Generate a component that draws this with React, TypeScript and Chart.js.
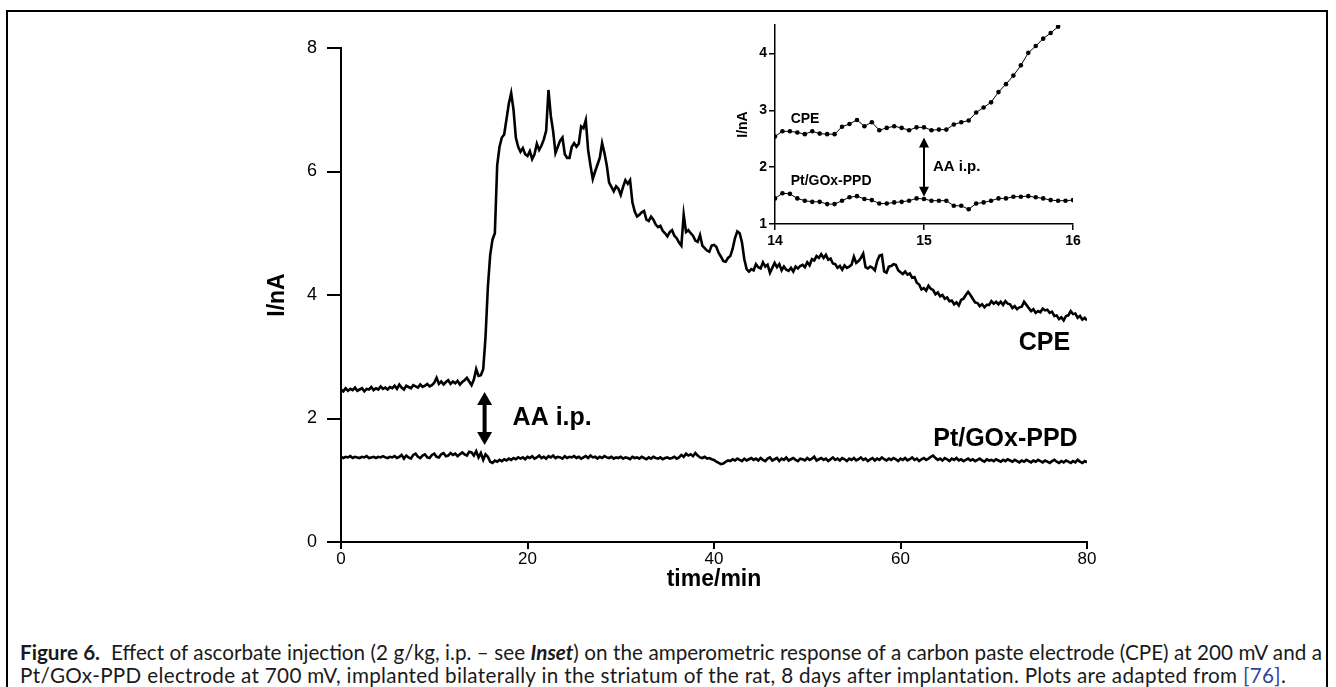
import React, { useEffect, useRef } from "react";
import { Chart, registerables } from "chart.js";

Chart.register(...registerables);

// ---------- data ----------
const MAIN_T_START = 0;
const MAIN_T_STEP = 0.25; // min between samples

const CPE_MAIN = [
  2.47, 2.44, 2.49, 2.45, 2.48, 2.46, 2.50, 2.45, 2.47, 2.49, 2.44, 2.48, 2.47, 2.51, 2.46, 2.49, 2.47, 2.52, 2.48, 2.50,
  2.47, 2.51, 2.49, 2.53, 2.48, 2.55, 2.50, 2.47, 2.53, 2.51, 2.49, 2.54, 2.52, 2.50, 2.55, 2.51, 2.53, 2.56, 2.52, 2.54,
  2.58, 2.66, 2.56, 2.60, 2.55, 2.59, 2.62, 2.56, 2.60, 2.57, 2.61, 2.55, 2.59, 2.62, 2.66, 2.60, 2.54, 2.63, 2.80, 2.69,
  2.70, 2.80, 3.32, 4.13, 4.65, 4.90, 5.00, 6.10, 6.40, 6.55, 6.60, 6.85, 7.10, 7.27, 7.00, 6.55, 6.40, 6.32, 6.38, 6.28,
  6.25, 6.33, 6.20, 6.28, 6.45, 6.35, 6.42, 6.52, 6.66, 7.32, 6.90, 6.65, 6.30, 6.40, 6.50, 6.55, 6.28, 6.22, 6.22, 6.40,
  6.46, 6.40, 6.45, 6.73, 6.70, 6.83, 6.35, 6.10, 5.88, 6.00, 6.11, 6.22, 6.46, 6.30, 6.10, 5.82, 5.75, 5.68, 5.76, 5.72,
  5.62, 5.75, 5.86, 5.80, 5.86, 5.50, 5.35, 5.27, 5.30, 5.34, 5.36, 5.22, 5.20, 5.27, 5.22, 5.14, 5.10, 5.12, 5.04, 5.00,
  4.95, 5.02, 5.05, 4.96, 4.92, 4.85, 4.80, 5.30, 5.02, 5.05, 5.00, 4.96, 4.88, 4.86, 4.97, 4.80, 4.76, 4.72, 4.70, 4.80,
  4.81, 4.78, 4.68, 4.62, 4.55, 4.54, 4.60, 4.63, 4.75, 4.92, 5.03, 5.00, 4.85, 4.58, 4.42, 4.38, 4.42, 4.40, 4.50, 4.45,
  4.43, 4.53, 4.46, 4.49, 4.36, 4.44, 4.52, 4.45, 4.50, 4.40, 4.46, 4.41, 4.39, 4.44, 4.38, 4.46, 4.43, 4.47, 4.49, 4.45,
  4.53, 4.48, 4.58, 4.56, 4.63, 4.60, 4.66, 4.60, 4.65, 4.57, 4.59, 4.51, 4.50, 4.44, 4.47, 4.41, 4.48, 4.44, 4.46, 4.49,
  4.62, 4.52, 4.55, 4.60, 4.67, 4.45, 4.43, 4.46, 4.44, 4.40, 4.55, 4.64, 4.65, 4.38, 4.36, 4.46, 4.47, 4.50, 4.49, 4.40,
  4.37, 4.34, 4.38, 4.33, 4.35, 4.28, 4.29, 4.20, 4.17, 4.09, 4.11, 4.07, 4.15, 4.10, 4.08, 4.01, 4.04, 3.98, 4.00, 3.94,
  3.96, 3.90, 3.91, 3.85, 3.88, 3.83, 3.92, 3.94, 4.00, 4.05, 4.00, 3.94, 3.88, 3.87, 3.82, 3.85, 3.80, 3.84, 3.84, 3.90,
  3.86, 3.89, 3.85, 3.89, 3.84, 3.90, 3.86, 3.85, 3.79, 3.82, 3.77, 3.80, 3.81, 3.89, 3.84, 3.79, 3.74, 3.77, 3.71, 3.74,
  3.72, 3.78, 3.75, 3.76, 3.71, 3.73, 3.66, 3.67, 3.61, 3.64, 3.59, 3.66, 3.67, 3.74, 3.69, 3.70, 3.63, 3.66, 3.60, 3.63,
  3.59,
];

const PT_MAIN = [
  1.38, 1.36, 1.38, 1.37, 1.39, 1.36, 1.38, 1.37, 1.36, 1.38, 1.37, 1.39, 1.36, 1.37, 1.38, 1.36, 1.38, 1.37, 1.39, 1.37,
  1.36, 1.38, 1.37, 1.39, 1.36, 1.38, 1.41, 1.35, 1.40, 1.37, 1.35, 1.41, 1.43, 1.38, 1.36, 1.40, 1.42, 1.37, 1.36, 1.41,
  1.43, 1.38, 1.37, 1.42, 1.44, 1.39, 1.40, 1.44, 1.41, 1.43, 1.39, 1.42, 1.45, 1.42, 1.40, 1.46, 1.45, 1.40, 1.47, 1.37,
  1.44, 1.33, 1.42, 1.38, 1.30, 1.28, 1.32, 1.30, 1.33, 1.31, 1.34, 1.32, 1.35, 1.33, 1.36, 1.34, 1.37, 1.35, 1.37, 1.34,
  1.38, 1.36, 1.39, 1.35, 1.37, 1.40, 1.36, 1.38, 1.35, 1.39, 1.37, 1.40, 1.36, 1.38, 1.37, 1.35, 1.39, 1.36, 1.38, 1.37,
  1.39, 1.36, 1.38, 1.35, 1.37, 1.39, 1.36, 1.40, 1.37, 1.38, 1.35, 1.38, 1.36, 1.39, 1.37, 1.36, 1.38, 1.35, 1.37, 1.36,
  1.38, 1.35, 1.37, 1.36, 1.34, 1.38, 1.36, 1.37, 1.35, 1.38, 1.36, 1.34, 1.37, 1.35, 1.38, 1.36, 1.35, 1.37, 1.34, 1.36,
  1.37, 1.35, 1.36, 1.38, 1.35, 1.37, 1.41, 1.38, 1.43, 1.40, 1.42, 1.39, 1.44, 1.40, 1.37, 1.36, 1.38, 1.35, 1.36, 1.34,
  1.33, 1.30, 1.28, 1.26, 1.27, 1.30, 1.32, 1.31, 1.34, 1.32, 1.35, 1.33, 1.31, 1.35, 1.32, 1.34, 1.36, 1.33, 1.35, 1.32,
  1.36, 1.33, 1.31, 1.35, 1.37, 1.32, 1.34, 1.36, 1.31, 1.35, 1.33, 1.37, 1.32, 1.34, 1.36, 1.33, 1.31, 1.35, 1.34, 1.32,
  1.36, 1.33, 1.35, 1.38, 1.32, 1.34, 1.36, 1.33, 1.35, 1.31, 1.34, 1.37, 1.33, 1.35, 1.32, 1.36, 1.34, 1.31, 1.35, 1.33,
  1.36, 1.32, 1.34, 1.37, 1.33, 1.35, 1.31, 1.34, 1.36, 1.32, 1.35, 1.33, 1.37, 1.34, 1.32, 1.35, 1.33, 1.36, 1.34, 1.31,
  1.35, 1.33, 1.36, 1.32, 1.34, 1.37, 1.33, 1.35, 1.31, 1.34, 1.36, 1.33, 1.35, 1.38, 1.40, 1.36, 1.33, 1.35, 1.32, 1.36,
  1.34, 1.31, 1.35, 1.33, 1.36, 1.32, 1.34, 1.31, 1.33, 1.35, 1.32, 1.34, 1.31, 1.33, 1.35, 1.32, 1.30, 1.34, 1.32, 1.33,
  1.31, 1.34, 1.32, 1.30, 1.33, 1.31, 1.34, 1.32, 1.30, 1.33, 1.31, 1.29, 1.32, 1.30, 1.33, 1.31, 1.29, 1.32, 1.30, 1.33,
  1.31, 1.29, 1.32, 1.30, 1.28, 1.31, 1.33, 1.30, 1.28, 1.31, 1.29, 1.32, 1.30, 1.28, 1.31, 1.29, 1.33, 1.30, 1.28, 1.31,
  1.29,
];

const INSET_T = [
  14.0, 14.05, 14.1, 14.15, 14.2, 14.25, 14.3, 14.35, 14.4, 14.45,
  14.5, 14.55, 14.6, 14.65, 14.7, 14.75, 14.8, 14.85, 14.9, 14.95,
  15.0, 15.05, 15.1, 15.15, 15.2, 15.25, 15.3, 15.35, 15.4, 15.45,
  15.5, 15.55, 15.6, 15.65, 15.7, 15.75, 15.8, 15.85, 15.9, 15.95, 16.0,
];

const CPE_INSET = [
  2.54, 2.63, 2.63, 2.61, 2.58, 2.63, 2.59, 2.58, 2.58, 2.71,
  2.76, 2.83, 2.72, 2.79, 2.65, 2.69, 2.72, 2.69, 2.65, 2.70,
  2.70, 2.65, 2.66, 2.66, 2.75, 2.79, 2.82, 2.96, 3.05, 3.14,
  3.32, 3.46, 3.61, 3.79, 4.01, 4.13, 4.26, 4.36, 4.47,
];

const PT_INSET = [
  1.45, 1.54, 1.53, 1.45, 1.41, 1.39, 1.39, 1.35, 1.35, 1.41,
  1.47, 1.49, 1.44, 1.42, 1.36, 1.36, 1.38, 1.39, 1.41, 1.45,
  1.44, 1.41, 1.41, 1.41, 1.32, 1.32, 1.26, 1.36, 1.38, 1.41,
  1.45, 1.45, 1.48, 1.48, 1.49, 1.47, 1.45, 1.42, 1.41, 1.41, 1.42,
];

const MAIN_X_TICKS = [0, 20, 40, 60, 80];
const MAIN_Y_TICKS = [0, 2, 4, 6, 8];
const INSET_X_TICKS = [14, 15, 16];
const INSET_Y_TICKS = [1, 2, 3, 4];

// ---------- helpers ----------
const ARIAL = '"Liberation Sans", Arial, Helvetica, sans-serif';

function drawArrow(ctx: CanvasRenderingContext2D, x: number, yTop: number, yBot: number, headW: number, headL: number, lineW: number) {
  ctx.save();
  ctx.fillStyle = "#000";
  ctx.strokeStyle = "#000";
  ctx.lineWidth = lineW;
  ctx.beginPath();
  ctx.moveTo(x, yTop + headL - 1);
  ctx.lineTo(x, yBot - headL + 1);
  ctx.stroke();
  ctx.beginPath();
  ctx.moveTo(x, yTop);
  ctx.lineTo(x - headW / 2, yTop + headL);
  ctx.lineTo(x + headW / 2, yTop + headL);
  ctx.closePath();
  ctx.fill();
  ctx.beginPath();
  ctx.moveTo(x, yBot);
  ctx.lineTo(x - headW / 2, yBot - headL);
  ctx.lineTo(x + headW / 2, yBot - headL);
  ctx.closePath();
  ctx.fill();
  ctx.restore();
}

const notesPlugin = {
  id: "notes",
  afterDatasetsDraw(chart: any, _args: any, opts: any) {
    const { ctx, scales } = chart;
    const xs = scales.x;
    const ys = scales.y;
    ctx.save();
    (opts.labels || []).forEach((l: any) => {
      ctx.font = l.font;
      ctx.fillStyle = "#000";
      ctx.textAlign = l.align;
      ctx.textBaseline = "middle";
      ctx.fillText(l.text, xs.getPixelForValue(l.x), ys.getPixelForValue(l.y));
    });
    (opts.arrows || []).forEach((a: any) => {
      drawArrow(ctx, xs.getPixelForValue(a.x), ys.getPixelForValue(a.y1), ys.getPixelForValue(a.y2), a.headW, a.headL, a.lineW);
    });
    ctx.restore();
  },
};

function pairs(ts: number[], vs: number[]) {
  return vs.map((v, i) => ({ x: ts[i], y: v }));
}

function mainPairs(vs: number[]) {
  return vs.map((v, i) => ({ x: MAIN_T_START + i * MAIN_T_STEP, y: v }));
}

// ---------- component ----------
export default function App() {
  const mainRef = useRef<HTMLCanvasElement>(null);
  const insetRef = useRef<HTMLCanvasElement>(null);
  const capRef = useRef<HTMLDivElement>(null);
  const line1Ref = useRef<HTMLDivElement>(null);
  const line2Ref = useRef<HTMLDivElement>(null);
  const span1Ref = useRef<HTMLSpanElement>(null);
  const span2Ref = useRef<HTMLSpanElement>(null);

  useEffect(() => {
    const mainChart = new Chart(mainRef.current as HTMLCanvasElement, {
      type: "line",
      data: {
        datasets: [
          { data: mainPairs(CPE_MAIN), borderColor: "#000", borderWidth: 2.6, pointRadius: 0, tension: 0 },
          { data: mainPairs(PT_MAIN), borderColor: "#000", borderWidth: 2.6, pointRadius: 0, tension: 0 },
        ],
      },
      options: {
        animation: false,
        responsive: false,
        devicePixelRatio: 1,
        layout: { padding: { left: 264, right: 249, top: 48, bottom: 0 } },
        plugins: {
          legend: { display: false },
          tooltip: { enabled: false },
          notes: {
            labels: [
              { text: "CPE", x: 78.2, y: 3.22, align: "right", font: `bold 25px ${ARIAL}` },
              { text: "Pt/GOx-PPD", x: 79.0, y: 1.67, align: "right", font: `bold 25px ${ARIAL}` },
              { text: "AA i.p.", x: 18.4, y: 2.0, align: "left", font: `bold 25px ${ARIAL}` },
            ],
            arrows: [{ x: 15.4, y1: 2.43, y2: 1.57, headW: 15, headL: 13, lineW: 4 }],
          },
        } as any,
        scales: {
          x: {
            type: "linear",
            min: 0,
            max: 80,
            afterFit: (s: any) => { s.height = 58; },
            afterBuildTicks: (s: any) => { s.ticks = MAIN_X_TICKS.map((v) => ({ value: v })); },
            border: { display: true, color: "#000", width: 2 },
            grid: { drawOnChartArea: false, drawTicks: true, tickLength: 7, color: "#000", lineWidth: 2 },
            ticks: { color: "#000", font: { family: ARIAL, size: 17 }, padding: 0, maxRotation: 0 },
            title: { display: true, text: "time/min", color: "#000", font: { family: ARIAL, size: 23, weight: "bold" }, padding: { top: 0, bottom: 7 } },
          },
          y: {
            type: "linear",
            min: 0,
            max: 8,
            afterFit: (s: any) => { s.width = 77; },
            afterBuildTicks: (s: any) => { s.ticks = MAIN_Y_TICKS.map((v) => ({ value: v })); },
            border: { display: true, color: "#000", width: 2 },
            grid: { drawOnChartArea: false, drawTicks: true, tickLength: 14, color: "#000", lineWidth: 2 },
            ticks: { color: "#000", font: { family: ARIAL, size: 18 }, padding: 10 },
            title: { display: true, text: "I/nA", color: "#000", font: { family: ARIAL, size: 23, weight: "bold" }, padding: { top: 0, bottom: 0 } },
          },
        },
      },
      plugins: [notesPlugin as any],
    });

    const insetChart = new Chart(insetRef.current as HTMLCanvasElement, {
      type: "line",
      data: {
        datasets: [
          { data: pairs(INSET_T, CPE_INSET), borderColor: "#000", borderWidth: 1, pointRadius: 2.3, pointBackgroundColor: "#000", pointBorderWidth: 0, tension: 0 },
          { data: pairs(INSET_T, PT_INSET), borderColor: "#000", borderWidth: 1, pointRadius: 2.3, pointBackgroundColor: "#000", pointBorderWidth: 0, tension: 0 },
        ],
      },
      options: {
        animation: false,
        responsive: false,
        devicePixelRatio: 1,
        layout: { padding: { left: 35, right: 27, top: 25, bottom: 6 } },
        plugins: {
          legend: { display: false },
          tooltip: { enabled: false },
          notes: {
            labels: [
              { text: "CPE", x: 14.105, y: 2.84, align: "left", font: `bold 14px ${ARIAL}` },
              { text: "Pt/GOx-PPD", x: 14.105, y: 1.75, align: "left", font: `bold 14px ${ARIAL}` },
              { text: "AA i.p.", x: 15.06, y: 2.0, align: "left", font: `bold 15px ${ARIAL}` },
            ],
            arrows: [{ x: 15.0, y1: 2.52, y2: 1.48, headW: 10, headL: 10, lineW: 2 }],
          },
        } as any,
        scales: {
          x: {
            type: "linear",
            min: 14,
            max: 16,
            afterFit: (s: any) => { s.height = 30; },
            afterBuildTicks: (s: any) => { s.ticks = INSET_X_TICKS.map((v) => ({ value: v })); },
            border: { display: true, color: "#000", width: 1.5 },
            grid: { drawOnChartArea: false, drawTicks: true, tickLength: 6, color: "#000", lineWidth: 1.5 },
            ticks: { color: "#000", font: { family: ARIAL, size: 14, weight: "bold" }, padding: 3, maxRotation: 0 },
          },
          y: {
            type: "linear",
            min: 1,
            max: 4.5,
            afterFit: (s: any) => { s.width = 40; },
            afterBuildTicks: (s: any) => { s.ticks = INSET_Y_TICKS.map((v) => ({ value: v })); },
            border: { display: true, color: "#000", width: 1.5 },
            grid: { drawOnChartArea: false, drawTicks: true, tickLength: 6, color: "#000", lineWidth: 1.5 },
            ticks: { color: "#000", font: { family: ARIAL, size: 14, weight: "bold" }, padding: 2 },
            title: { display: true, text: "I/nA", color: "#000", font: { family: ARIAL, size: 14, weight: "bold" }, padding: { top: 0, bottom: 0 } },
          },
        },
      },
      plugins: [notesPlugin as any],
    });

    // fit caption lines to the reference widths
    const cap = capRef.current;
    const l1 = line1Ref.current;
    const l2 = line2Ref.current;
    const s1 = span1Ref.current;
    const s2 = span2Ref.current;
    if (cap && l1 && l2 && s1 && s2) {
      const w1 = s1.getBoundingClientRect().width;
      const w2 = s2.getBoundingClientRect().width;
      const f = Math.min(1298 / w1, 1266 / w2);
      cap.style.fontSize = `${17 * f}px`;
      const w2b = s2.getBoundingClientRect().width;
      const n2 = (s2.textContent || "").length;
      if (w2b < 1266 && n2 > 0) l2.style.letterSpacing = `${(1266 - w2b) / n2}px`;
      l1.style.whiteSpace = "normal";
      l1.style.textAlignLast = "justify";
    }

    return () => {
      mainChart.destroy();
      insetChart.destroy();
    };
  }, []);

  const captionFont = 'Lato, "Open Sans", "Noto Sans", sans-serif';

  return (
    <div style={{ position: "absolute", left: 0, top: 0, width: 1336, height: 687, overflow: "hidden", background: "#fff" }}>
      <div
        style={{
          position: "absolute",
          left: 6,
          top: 10,
          width: 1322,
          height: 700,
          border: "2px solid #000",
          boxSizing: "border-box",
        }}
      />
      <canvas ref={mainRef} width={1336} height={600} style={{ position: "absolute", left: 0, top: 0, width: 1336, height: 600 }} />
      <canvas ref={insetRef} width={400} height={260} style={{ position: "absolute", left: 700, top: 0, width: 400, height: 260 }} />
      <div
        ref={capRef}
        style={{
          position: "absolute",
          left: 20,
          top: 641,
          width: 1302,
          fontFamily: captionFont,
          fontSize: 17,
          lineHeight: "23px",
          color: "#1a1a1a",
        }}
      >
        <div ref={line1Ref} style={{ textAlign: "justify", whiteSpace: "nowrap", width: 1302 }}>
          <span ref={span1Ref}>
            <b>Figure 6.</b>&nbsp; Effect of ascorbate injection (2 g/kg, i.p. – see <b><i>Inset</i></b>) on the amperometric response of a carbon paste electrode (CPE) at 200 mV and a
          </span>
        </div>
        <div ref={line2Ref} style={{ whiteSpace: "nowrap" }}>
          <span ref={span2Ref}>
            Pt/GOx-PPD electrode at 700 mV, implanted bilaterally in the striatum of the rat, 8 days after implantation. Plots are adapted from{" "}
            <span style={{ color: "#34439b" }}>[76]</span>.
          </span>
        </div>
      </div>
    </div>
  );
}
